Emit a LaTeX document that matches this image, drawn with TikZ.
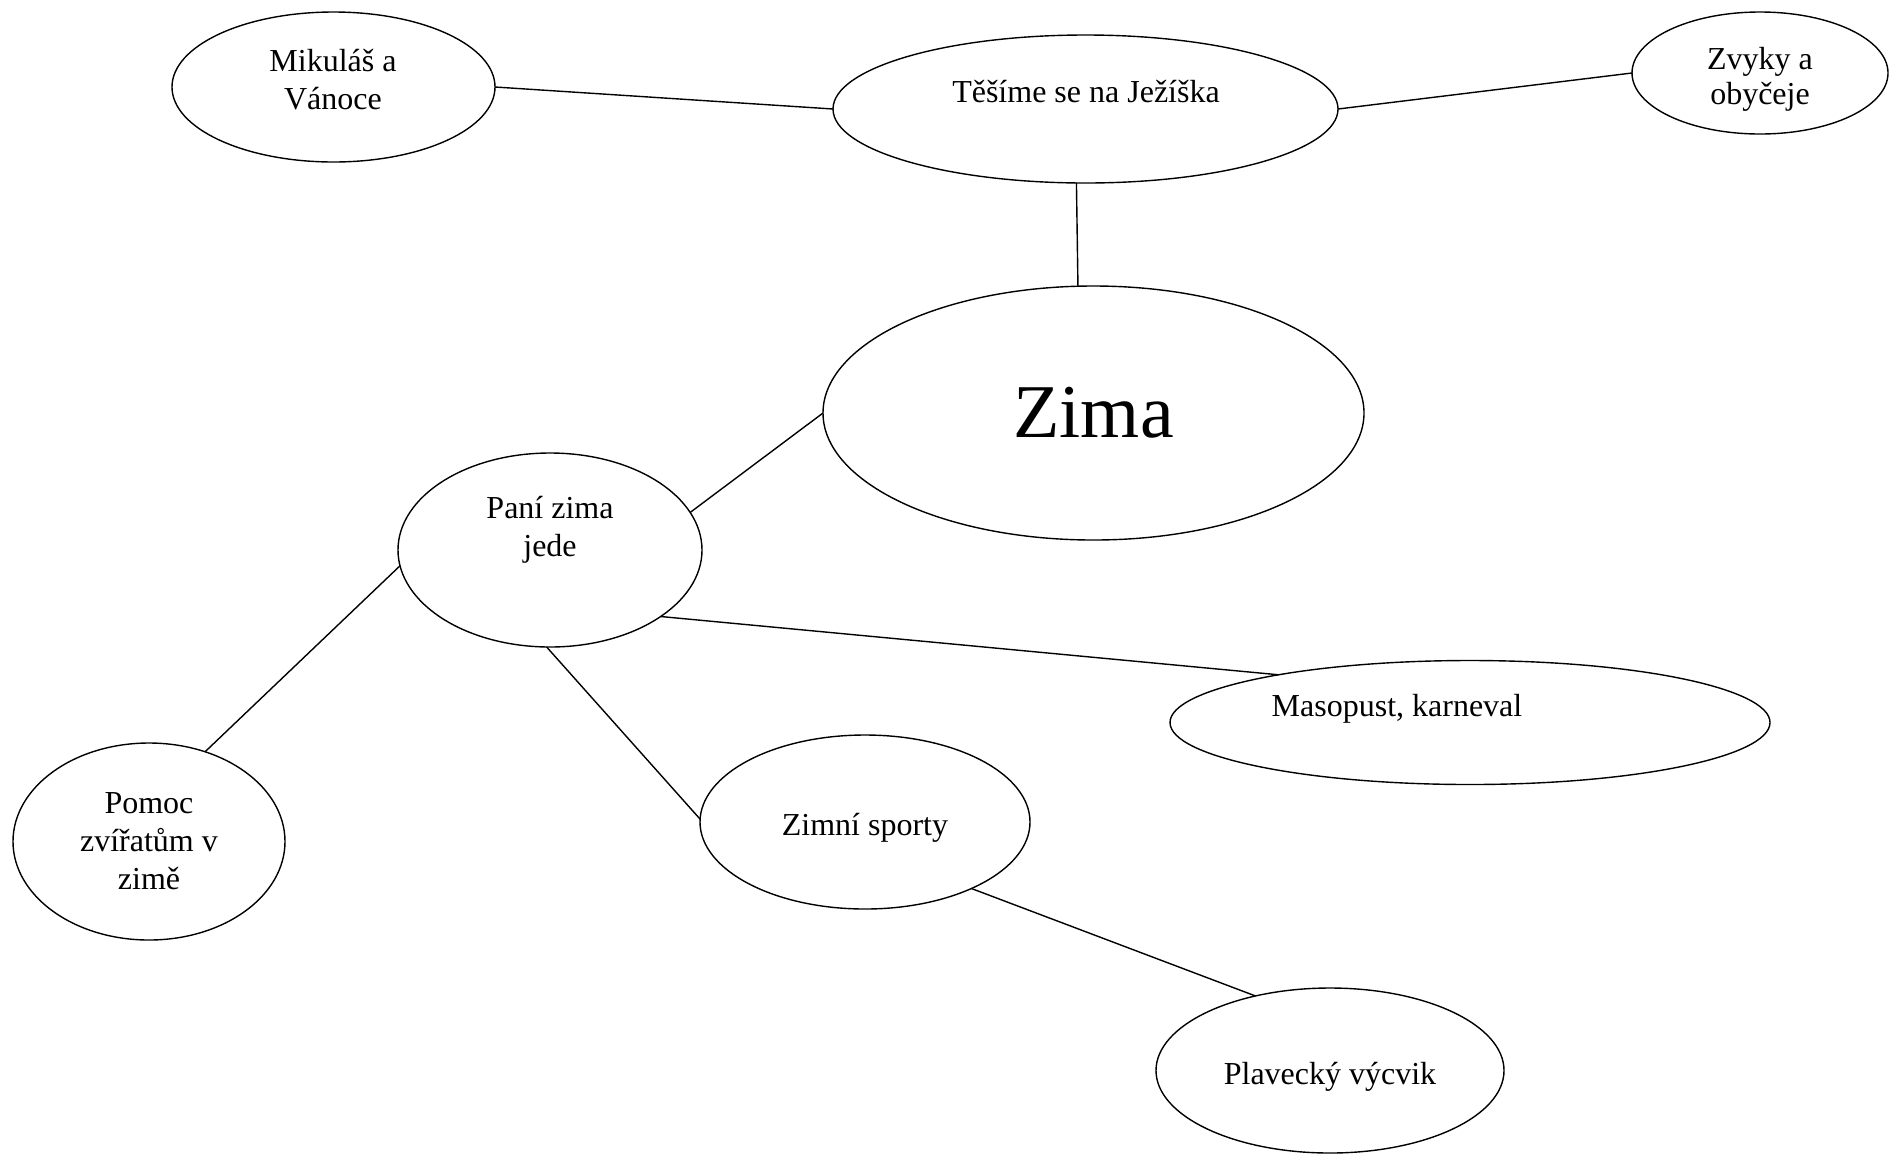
\documentclass[tikz,border=0pt]{standalone}
\usepackage{fontspec}
\setmainfont{Liberation Serif}
\usepackage{tikz}
\usetikzlibrary{shapes}

\begin{document}
\begin{tikzpicture}[x=0.5pt, y=-0.5pt, line width=0.7pt,
    bubble/.style={draw, ellipse, inner sep=0pt, outer sep=0pt},
    txt/.style={align=center, inner sep=0pt, font=\fontsize{16}{19}\selectfont}]
    \useasboundingbox (0,0) rectangle (1893,1158);

    % Top row: Christmas topics
    \node [bubble, minimum width=161.5pt, minimum height=75pt] (mik) at (333.5,87) {};
    \node [bubble, minimum width=252.5pt, minimum height=74pt] (tes) at (1085.5,109) {};
    \node [bubble, minimum width=128pt, minimum height=61pt] (zvy) at (1760,73) {};

    % Central topic
    \node [bubble, minimum width=270.5pt, minimum height=127pt] (zima) at (1093.5,413) {};

    % Lower topics
    \node [bubble, minimum width=152pt, minimum height=97pt] (pan) at (550,550) {};
    \node [bubble, minimum width=300pt, minimum height=62pt] (mas) at (1470,722.5) {};
    \node [bubble, minimum width=136pt, minimum height=98.5pt] (pom) at (149,841.5) {};
    \node [bubble, minimum width=165pt, minimum height=87pt] (zim) at (865,822) {};
    \node [bubble, minimum width=174pt, minimum height=82.5pt] (pla) at (1330,1070.5) {};

    % Texts (sitting a bit high in some bubbles)
    \node [txt] (mik-t) at (333,80) {Mikuláš a\\Vánoce};
    \node [txt] (tes-t) at (1086,92) {Těšíme se na Ježíška};
    \node [txt, font=\fontsize{16}{17.5}\selectfont] (zvy-t) at (1760,79) {Zvyky a\\obyčeje};
    \node [txt, font=\fontsize{38}{44}\selectfont] (zima-t) at (1093.5,413) {Zima};
    \node [txt] (pan-t) at (550,530) {Paní zima\\jede};
    \node [txt] (mas-t) at (1397,709) {Masopust, karneval};
    \node [txt] (pom-t) at (149,841) {Pomoc\\zvířatům v\\zimě};
    \node [txt] (zim-t) at (865,828) {Zimní sporty};
    \node [txt] (pla-t) at (1330,1077) {Plavecký výcvik};

    % Connections
    \draw (mik.east) -- (tes.west);
    \draw (tes.east) -- (zvy.west);
    \draw (tes.263) -- (zima.97);
    \draw (zima.west) -- (pan.15);
    \draw (pan.186) -- (pom.58);
    \draw (pan.329) -- (mas.166);
    \draw (pan.268) -- (zim.179);
    \draw (zim.328) -- (pla.135);

\end{tikzpicture}
\end{document}
